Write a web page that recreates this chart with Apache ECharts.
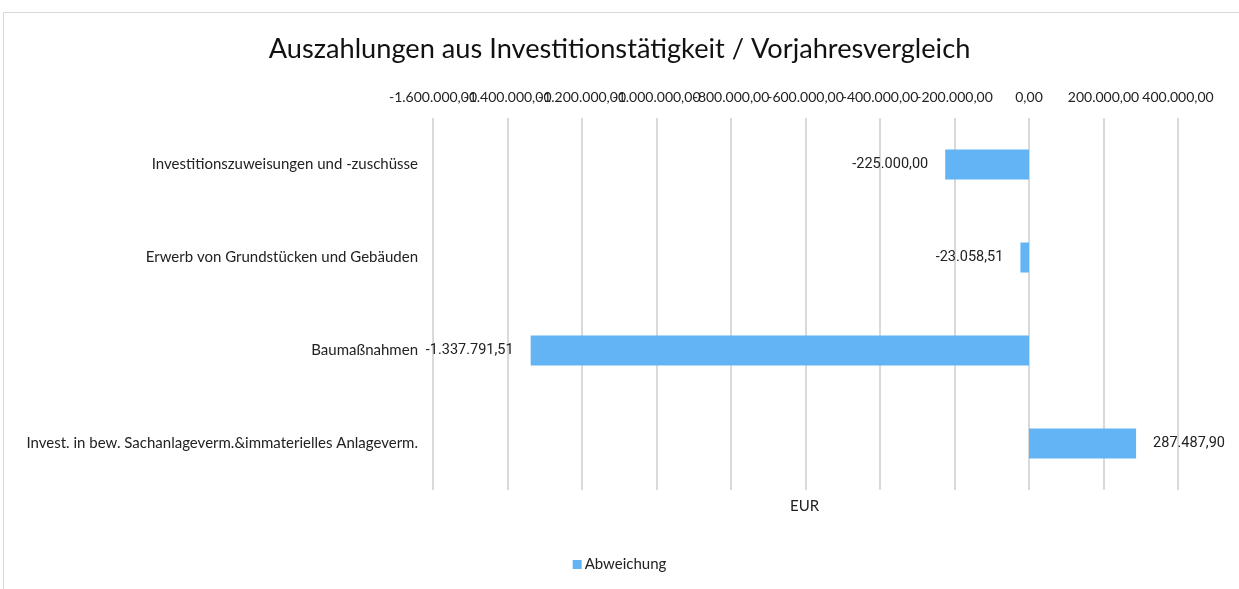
<!DOCTYPE html>
<html>
<head>
<meta charset="utf-8">
<script src="https://cdn.jsdelivr.net/npm/echarts@6/dist/echarts.min.js"></script>
<style>
  html, body { margin: 0; padding: 0; background: #fff; }
  #container { width: 1239px; height: 589px; }
</style>
</head>
<body>
<div id="container"></div>
<script>
// categories from top to bottom as in the picture
const categories = [
	'Investitionszuweisungen und -zuschüsse',
	'Erwerb von Grundstücken und Gebäuden',
	'Baumaßnahmen',
	'Invest. in bew. Sachanlageverm.&immaterielles Anlageverm.'
];
const abweichung = [-225000.00, -23058.51, -1337791.51, 287487.90];
const axisMin = -1600000;
const axisMax = 400000;
const axisStep = 200000;

function formatDE(v) {
	const neg = v < 0;
	const parts = Math.abs(v).toFixed(2).split('.');
	const int = parts[0].replace(/\B(?=(\d{3})+(?!\d))/g, '.');
	return (neg ? '-' : '') + int + ',' + parts[1];
}

var dom = document.getElementById('container');
var chart = echarts.init(dom);

// y axis is inverse so first category is on top
const seriesData = abweichung.map((v) => ({
	value: v,
	label: { position: v < 0 ? 'left' : 'right' }
}));

// the tick labels are wider than the tick spacing, so they are split on two
// overlaid top axes (even / odd ticks) to keep echarts from dropping any
function topAxis(even) {
	return {
		type: 'value',
		position: 'top',
		min: axisMin,
		max: axisMax,
		interval: axisStep,
		axisLine: { show: false },
		axisTick: { show: false },
		axisLabel: {
			formatter: (v, i) => ((i % 2 === 0) === even ? formatDE(v) : ''),
			fontFamily: 'Lato',
			fontSize: 14,
			color: '#222',
			margin: 14,
			showMinLabel: true,
			showMaxLabel: true,
			hideOverlap: false
		},
		splitLine: { show: even, lineStyle: { color: '#d9d9d9', width: 2 } }
	};
}

const option = {
	animation: false,
	textStyle: { fontFamily: 'Lato' },
	graphic: [{
		type: 'rect',
		shape: { x: 3.5, y: 12.5, width: 1260, height: 600 },
		style: { fill: 'none', stroke: '#d9d9d9', lineWidth: 1 },
		silent: true
	}],
	title: [{
		text: 'Auszahlungen aus Investitionstätigkeit / Vorjahresvergleich',
		left: 'center',
		top: 31,
		textStyle: { fontFamily: 'Lato', fontSize: 27.2, fontWeight: 'normal', color: '#111' }
	}, {
		text: 'EUR',
		left: 785,
		top: 494,
		textStyle: { fontFamily: 'Lato', fontSize: 15, fontWeight: 'normal', color: '#222' }
	}],
	legend: {
		bottom: 12,
		left: 'center',
		icon: 'rect',
		itemWidth: 9,
		itemHeight: 9,
		itemGap: 2,
		textStyle: { fontFamily: 'Lato', fontSize: 15, color: '#222', padding: [0, 0, 0, -2] },
		data: ['Abweichung']
	},
	grid: {
		left: 433,
		right: 61,
		top: 118,
		bottom: 99,
		containLabel: false
	},
	xAxis: [topAxis(true), topAxis(false)],
	yAxis: {
		type: 'category',
		inverse: true,
		data: categories,
		axisLine: { show: false },
		axisTick: { show: false },
		axisLabel: {
			fontFamily: 'Lato',
			fontSize: 15,
			color: '#222',
			margin: 15
		}
	},
	series: [{
		name: 'Abweichung',
		type: 'bar',
		xAxisIndex: 0,
		barWidth: 30,
		itemStyle: { color: '#63b4f5' },
		label: {
			show: true,
			distance: 17,
			formatter: (p) => formatDE(p.value),
			fontFamily: 'Roboto',
			fontSize: 14.5,
			color: '#222'
		},
		data: seriesData
	}]
};

chart.setOption(option, true);
</script>
</body>
</html>
